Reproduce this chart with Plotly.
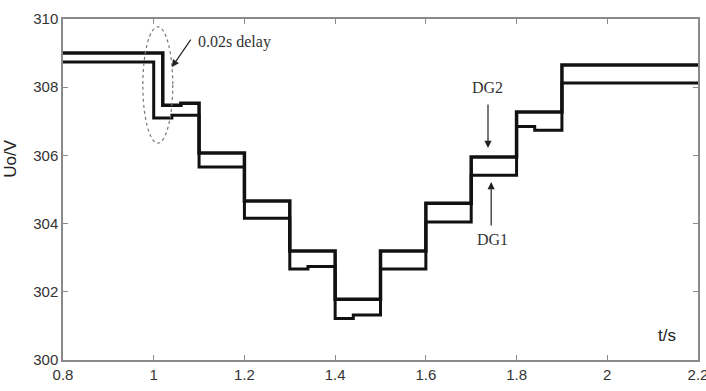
import plotly.graph_objects as go

# DG2 (upper trace, responds 0.02 s later)
t_dg2 = [0.8, 1.02, 1.06, 1.1, 1.2, 1.3, 1.4, 1.5, 1.6, 1.7, 1.8, 1.9, 2.2]
v_dg2 = [309.0, 307.47, 307.53, 306.07, 304.66, 303.2, 301.78, 303.2, 304.6, 305.95, 307.27, 308.65, 308.65]

# DG1 (lower trace)
t_dg1 = [0.8, 1.0, 1.04, 1.1, 1.2, 1.3, 1.34, 1.4, 1.44, 1.5, 1.6, 1.7, 1.8, 1.84, 1.9, 2.2]
v_dg1 = [308.74, 307.1, 307.18, 305.66, 304.16, 302.67, 302.74, 301.22, 301.32, 302.67, 304.05, 305.42, 306.85, 306.74, 308.12, 308.12]

x_ticks = [0.8, 1.0, 1.2, 1.4, 1.6, 1.8, 2.0, 2.2]
x_labels = ["0.8", "1", "1.2", "1.4", "1.6", "1.8", "2", "2.2"]
y_ticks = [300, 302, 304, 306, 308, 310]
y_labels = ["300", "302", "304", "306", "308", "310"]

fig = go.Figure()
fig.add_trace(go.Scatter(x=t_dg2, y=v_dg2, mode="lines", line=dict(color="#111111", width=3.5, shape="hv"), name="DG2"))
fig.add_trace(go.Scatter(x=t_dg1, y=v_dg1, mode="lines", line=dict(color="#111111", width=3, shape="hv"), name="DG1"))

axis_common = dict(showgrid=False, zeroline=False, showline=True, linecolor="#8a8a8a", linewidth=1.5,
                   mirror="allticks", ticks="inside", ticklen=5, tickcolor="#8a8a8a",
                   ticklabeloverflow="allow", automargin=False,
                   tickfont=dict(family="Liberation Sans Narrow, Arial Narrow, Liberation Sans, Arial", size=15, color="#333333"))

fig.update_xaxes(range=[0.8, 2.2], tickvals=x_ticks, ticktext=x_labels, **axis_common)
fig.update_yaxes(range=[300, 310], tickvals=y_ticks, ticktext=y_labels, **axis_common)

serif = dict(family="Liberation Serif, Times New Roman, serif", size=16, color="#333333")
sans = dict(family="Liberation Sans, Arial, sans-serif", size=17, color="#222222")

# dashed ellipse around the delay
fig.add_shape(type="circle", xref="x", yref="y", x0=0.976, x1=1.042, y0=306.36, y1=309.77,
              line=dict(color="#777777", width=1.2, dash="dot"))

arrows = [
    (1.040, 308.59, 1.084, 309.44),
    (1.737, 306.22, 1.737, 307.54),
    (1.744, 305.22, 1.744, 303.9),
]
for x, y, ax, ay in arrows:
    fig.add_annotation(x=x, y=y, ax=ax, ay=ay, xref="x", yref="y", axref="x", ayref="y",
                       text="", showarrow=True, arrowhead=2, arrowsize=1.2, arrowwidth=1.2, arrowcolor="#222222")

fig.add_annotation(x=1.179, y=309.33, text="0.02s delay", showarrow=False, font=serif)
fig.add_annotation(x=1.735, y=307.98, text="DG2", showarrow=False, font=serif)
fig.add_annotation(x=1.748, y=303.52, text="DG1", showarrow=False, font=serif)
fig.add_annotation(x=2.132, y=300.73, text="t/s", showarrow=False, font=sans)
fig.add_annotation(x=-0.1, y=0.59, xref="paper", yref="paper", text="Uo/V", textangle=-90,
                   showarrow=False, font=sans)

fig.update_layout(width=706, height=391, margin=dict(l=63, r=8, t=19, b=31),
                  paper_bgcolor="white", plot_bgcolor="white", showlegend=False)

fig.write_html("out.html")
